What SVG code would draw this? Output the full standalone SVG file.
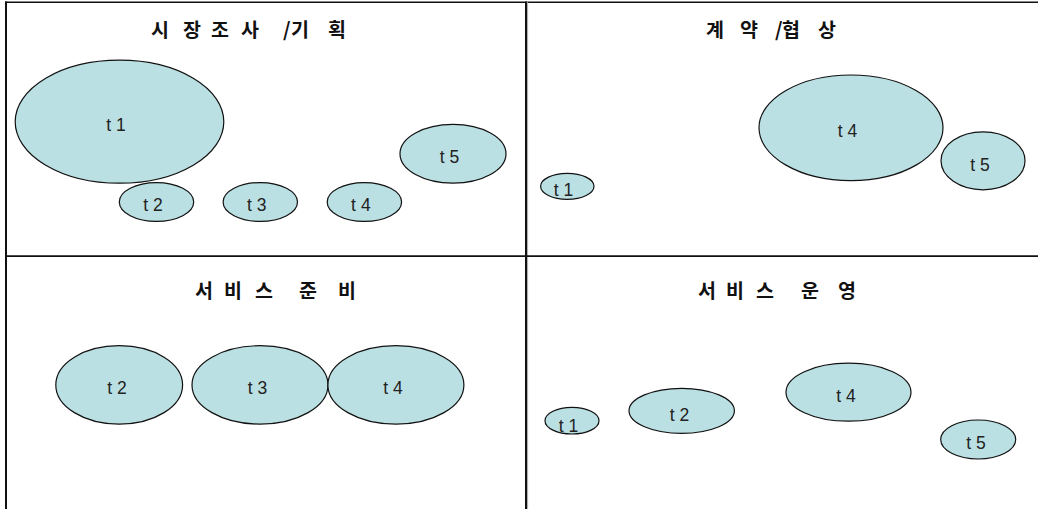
<svg xmlns="http://www.w3.org/2000/svg" width="1038" height="509" viewBox="0 0 1038 509">
<style>
.frame{stroke:#111;fill:none}
.node ellipse{fill:#BBE0E3;stroke:#111;stroke-width:1.2}
.node text{font-family:"Liberation Sans",Arial,sans-serif;font-size:17.5px;letter-spacing:5px;fill:#222;text-anchor:middle}
.title{font-family:"Noto Sans CJK KR","Noto Sans CJK SC",sans-serif;font-size:19.5px;font-weight:bold;fill:#111}
</style>
<rect width="1038" height="509" fill="#fff"/>
<g id="frame">
<line class="frame" x1="5" y1="2.3" x2="1038" y2="2.3" stroke-width="1.5"/>
<line class="frame" x1="6" y1="1.5" x2="6" y2="509" stroke-width="2"/>
<line class="frame" x1="526" y1="1.5" x2="526" y2="509" stroke-width="2"/>
<line x1="527.6" y1="1.5" x2="527.6" y2="509" stroke="#aaa" stroke-width="1"/>
<line class="frame" x1="6" y1="256.2" x2="1038" y2="256.2" stroke-width="1.7"/>
</g>
<g id="titles">
<text id="title-market" class="title" x="151 168 183 200 211 228 241 258 283 291 308 328" y="36.5">시 장 조 사 /기 획</text>
<text id="title-contract" class="title" x="706 723 740 757 775 782 799 818" y="36.5">계 약 /협 상</text>
<text id="title-prep" class="title" x="195 212 224 241 255 272 299 316 338" y="297.5">서 비 스 준 비</text>
<text id="title-ops" class="title" x="698 715 726 743 756 773 801 818 838" y="297.5">서 비 스 운 영</text>
</g>
<g id="connectors"/>
<g id="market-t1" class="node"><ellipse cx="119.5" cy="121.7" rx="104.3" ry="61.5"/><text x="118.5" y="131">t1</text></g>
<g id="market-t2" class="node"><ellipse cx="156.5" cy="202" rx="37.2" ry="19.4"/><text x="155.5" y="211.3">t2</text></g>
<g id="market-t3" class="node"><ellipse cx="260.3" cy="202" rx="37.2" ry="19.4"/><text x="259.3" y="211.3">t3</text></g>
<g id="market-t4" class="node"><ellipse cx="364.4" cy="202" rx="37.2" ry="19.4"/><text x="363.4" y="211.3">t4</text></g>
<g id="market-t5" class="node"><ellipse cx="453" cy="153.8" rx="53" ry="29.4"/><text x="452" y="162.5">t5</text></g>
<g id="contract-t1" class="node"><ellipse cx="567.3" cy="186.3" rx="26.7" ry="13"/><text x="566" y="196.3">t1</text></g>
<g id="contract-t4" class="node"><ellipse cx="851" cy="127.8" rx="92" ry="52.8"/><text x="850" y="136.8">t4</text></g>
<g id="contract-t5" class="node"><ellipse cx="983" cy="160.8" rx="42" ry="29"/><text x="982.5" y="170.5">t5</text></g>
<g id="prep-t2" class="node"><ellipse cx="119.2" cy="384.9" rx="63.4" ry="39.2"/><text x="119.5" y="393.8">t2</text></g>
<g id="prep-t3" class="node"><ellipse cx="260" cy="384.9" rx="68" ry="39.2"/><text x="260" y="393.8">t3</text></g>
<g id="prep-t4" class="node"><ellipse cx="395.9" cy="384.9" rx="68" ry="39.2"/><text x="395.5" y="393.8">t4</text></g>
<g id="ops-t1" class="node"><ellipse cx="572" cy="420.7" rx="27" ry="13.3"/><text x="571" y="431.5">t1</text></g>
<g id="ops-t2" class="node"><ellipse cx="681.7" cy="410.8" rx="52.7" ry="22.5"/><text x="682" y="421">t2</text></g>
<g id="ops-t4" class="node"><ellipse cx="848.5" cy="392.2" rx="62.5" ry="29"/><text x="848.5" y="401.7">t4</text></g>
<g id="ops-t5" class="node"><ellipse cx="978.2" cy="439.5" rx="37.5" ry="19.5"/><text x="978.5" y="449">t5</text></g>
</svg>
